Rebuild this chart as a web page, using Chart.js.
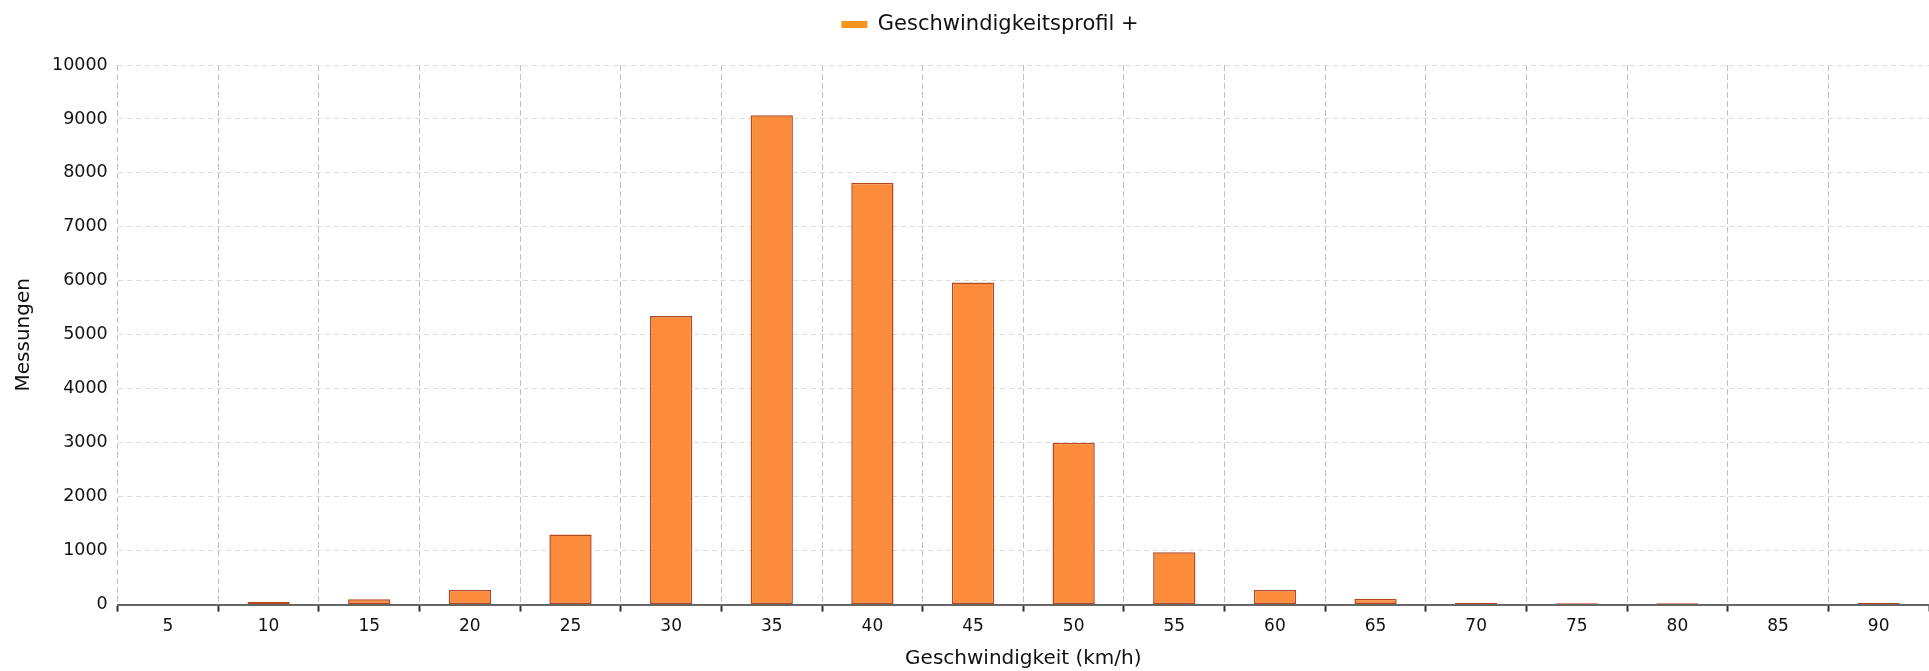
<!DOCTYPE html>
<html>
<head>
<meta charset="utf-8">
<script src="https://cdn.jsdelivr.net/npm/chart.js@4.4.1/dist/chart.umd.min.js"></script>
<style>
  html, body { margin: 0; padding: 0; background: #ffffff; }
  #wrap { width: 1929px; height: 671px; position: relative; }
</style>
</head>
<body>
<div id="wrap"><canvas id="c"></canvas></div>
<script>
const speedLabels = ['5','10','15','20','25','30','35','40','45','50','55','60','65','70','75','80','85','90'];
const measurements = [0, 50, 100, 270, 1300, 5350, 9070, 7820, 5970, 3000, 970, 270, 110, 30, 25, 25, 0, 30];
const seriesName = 'Geschwindigkeitsprofil +';
const xTitle = 'Geschwindigkeit (km/h)';
const yTitle = 'Messungen';
const yMin = 0, yMax = 10000, yStep = 1000;

const legendTweak = {
  id: 'legendTweak',
  beforeInit(chart) {
    const lg = chart.legend;
    const orig = lg.fit;
    lg.fit = function () { orig.call(this); this.height += 20; };
  },
  afterLayout(chart) {
    chart.legend.left += 17;
    chart.legend.right += 17;
  }
};

new Chart(document.getElementById('c'), {
  type: 'bar',
  data: {
    labels: speedLabels,
    datasets: [{
      label: seriesName,
      data: measurements,
      backgroundColor: '#FB8C3C',
      borderColor: '#B5481E',
      borderWidth: 1.5,
      borderSkipped: false,
      barPercentage: 0.42,
      categoryPercentage: 1.0
    }]
  },
  plugins: [legendTweak],
  options: {
    responsive: true,
    maintainAspectRatio: false,
    animation: false,
    devicePixelRatio: 1,
    layout: { padding: { top: 4, right: -7, left: 10, bottom: 0 } },
    plugins: {
      tooltip: { enabled: false },
      legend: {
        display: true,
        position: 'top',
        labels: {
          boxWidth: 26,
          boxHeight: 7,
          color: '#111111',
          padding: 10,
          font: { family: '"DejaVu Sans", sans-serif', size: 21 },
          generateLabels(chart) {
            return [{
              text: seriesName,
              fillStyle: '#F7941D',
              strokeStyle: '#F7941D',
              lineWidth: 0,
              hidden: false,
              datasetIndex: 0,
              fontColor: '#111111'
            }];
          }
        }
      }
    },
    scales: {
      x: {
        offset: true,
        grid: {
          offset: true,
          color: '#c0c0c0',
          tickColor: '#333333',
          tickLength: 7,
          tickWidth: 2,
          lineWidth: 1
        },
        border: { display: true, color: '#666666', width: 2, dash: [6, 3] },
        ticks: {
          color: '#111111',
          padding: 5,
          font: { family: '"DejaVu Sans", sans-serif', size: 17 }
        },
        title: {
          display: true,
          text: xTitle,
          color: '#111111',
          font: { family: '"DejaVu Sans", sans-serif', size: 20 },
          padding: { top: 5, bottom: 0 }
        }
      },
      y: {
        min: yMin,
        max: yMax,
        grid: { color: '#dcdcdc', drawTicks: false, lineWidth: 1 },
        border: { display: false, dash: [5, 4] },
        ticks: {
          stepSize: yStep,
          color: '#111111',
          padding: 10,
          font: { family: '"DejaVu Sans", sans-serif', size: 17.5 },
          callback: (v) => String(v)
        },
        title: {
          display: true,
          text: yTitle,
          color: '#111111',
          font: { family: '"DejaVu Sans", sans-serif', size: 20 },
          padding: { top: 2, bottom: 6 }
        }
      }
    }
  }
});
</script>
</body>
</html>
